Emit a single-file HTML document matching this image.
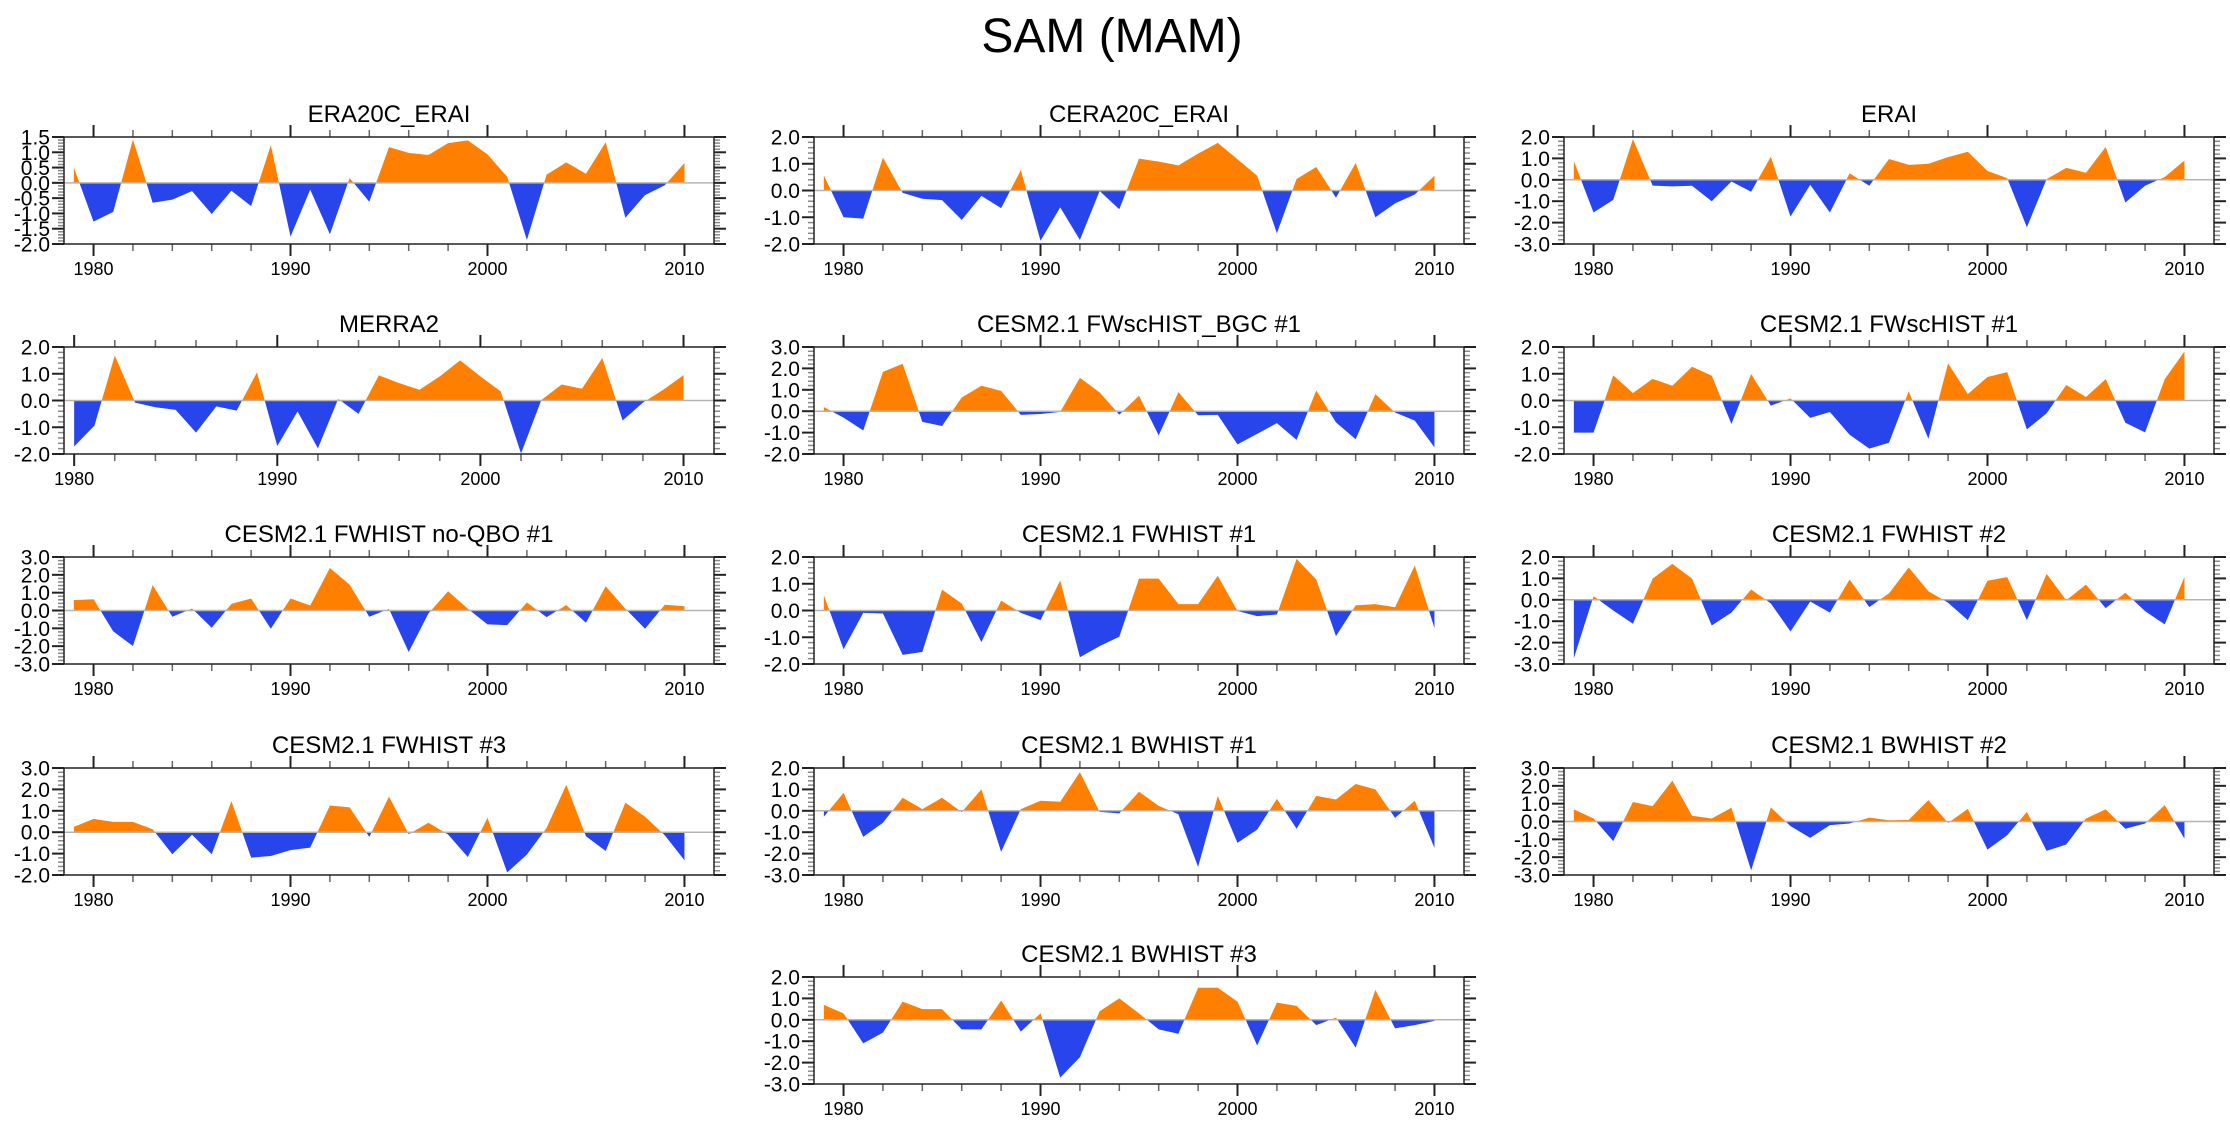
<!DOCTYPE html>
<html>
<head>
<meta charset="utf-8">
<style>
  html,body{margin:0;padding:0;background:#fff;}
  svg{display:block;font-family:"Liberation Sans",Arial,sans-serif;}
</style>
</head>
<body>
<svg id="chart" width="2230" height="1133" viewBox="0 0 2230 1133" xmlns="http://www.w3.org/2000/svg">
  <rect x="0" y="0" width="2230" height="1133" fill="#ffffff"/>
  <text x="1112" y="52" font-size="48" text-anchor="middle" fill="#000">SAM (MAM)</text>
</svg>
<script>
// ---- data (one array per panel, values by year) ----
const panelTitles = ["ERA20C_ERAI","CERA20C_ERAI","ERAI","MERRA2","CESM2.1 FWscHIST_BGC #1","CESM2.1 FWscHIST #1","CESM2.1 FWHIST no-QBO #1","CESM2.1 FWHIST #1","CESM2.1 FWHIST #2","CESM2.1 FWHIST #3","CESM2.1 BWHIST #1","CESM2.1 BWHIST #2","CESM2.1 BWHIST #3"];
const startYears = [1979,1979,1979,1980,1979,1979,1979,1979,1979,1979,1979,1979,1979];
const valsERA20C = [0.5,-1.27,-0.95,1.42,-0.65,-0.55,-0.27,-1.02,-0.26,-0.76,1.23,-1.76,-0.22,-1.68,0.16,-0.62,1.17,0.98,0.91,1.3,1.39,0.93,0.2,-1.87,0.27,0.67,0.3,1.33,-1.14,-0.4,-0.08,0.65];
const valsCERA20C = [0.57,-1.0,-1.05,1.23,-0.09,-0.31,-0.36,-1.1,-0.2,-0.66,0.76,-1.88,-0.63,-1.85,-0.02,-0.7,1.19,1.08,0.94,1.38,1.78,1.17,0.55,-1.6,0.43,0.88,-0.27,1.03,-1.0,-0.48,-0.15,0.55];
const valsERAI = [0.87,-1.53,-0.94,1.9,-0.27,-0.31,-0.28,-1.0,-0.08,-0.56,1.08,-1.72,-0.23,-1.53,0.3,-0.28,0.97,0.7,0.75,1.06,1.31,0.41,0.08,-2.22,0.03,0.56,0.33,1.53,-1.06,-0.28,0.13,0.9];
const valsMERRA2 = [-1.72,-0.94,1.68,-0.08,-0.25,-0.35,-1.2,-0.22,-0.38,1.05,-1.7,-0.41,-1.79,0.06,-0.5,0.94,0.65,0.4,0.9,1.5,0.9,0.34,-1.98,0.02,0.6,0.44,1.59,-0.75,-0.08,0.4,0.95];
const valsFWscBGC1 = [0.19,-0.3,-0.9,1.84,2.22,-0.5,-0.69,0.64,1.19,0.95,-0.17,-0.13,-0.03,1.56,0.88,-0.16,0.72,-1.13,0.89,-0.19,-0.17,-1.55,-1.06,-0.56,-1.34,0.97,-0.52,-1.31,0.8,-0.06,-0.44,-1.69];
const valsFWsc1 = [-1.2,-1.2,0.94,0.28,0.81,0.55,1.26,0.93,-0.88,0.99,-0.19,0.08,-0.65,-0.43,-1.28,-1.8,-1.58,0.34,-1.43,1.39,0.24,0.88,1.06,-1.08,-0.48,0.58,0.13,0.8,-0.83,-1.19,0.8,1.83];
const valsFWnoQBO1 = [0.58,0.63,-1.17,-1.99,1.42,-0.35,0.11,-0.97,0.37,0.67,-1.02,0.67,0.28,2.38,1.45,-0.35,0.09,-2.33,-0.17,1.08,0.1,-0.78,-0.82,0.45,-0.37,0.3,-0.69,1.36,0.1,-1.02,0.32,0.24];
const valsFW1 = [0.57,-1.45,-0.09,-0.11,-1.66,-1.55,0.78,0.26,-1.18,0.37,-0.09,-0.36,1.12,-1.75,-1.33,-0.98,1.19,1.19,0.24,0.24,1.3,-0.02,-0.21,-0.15,1.93,1.16,-0.96,0.19,0.24,0.12,1.68,-0.66];
const valsFW2 = [-2.73,0.17,-0.5,-1.12,0.99,1.68,0.99,-1.2,-0.6,0.48,-0.17,-1.48,-0.08,-0.6,0.95,-0.34,0.3,1.51,0.4,-0.14,-0.95,0.89,1.06,-0.95,1.21,-0.02,0.71,-0.39,0.33,-0.53,-1.15,1.07];
const valsFW3 = [0.25,0.62,0.48,0.48,0.14,-1.03,-0.12,-1.03,1.45,-1.19,-1.11,-0.84,-0.72,1.25,1.16,-0.22,1.66,-0.09,0.44,-0.11,-1.16,0.67,-1.88,-1.05,0.2,2.22,-0.19,-0.88,1.38,0.72,-0.14,-1.31];
const valsBW1 = [-0.28,0.84,-1.22,-0.56,0.61,0.08,0.61,-0.06,1.0,-1.92,0.08,0.47,0.42,1.81,-0.05,-0.12,0.89,0.23,-0.16,-2.62,0.69,-1.5,-0.88,0.56,-0.84,0.7,0.53,1.25,1.0,-0.33,0.47,-1.73];
const valsBW2 = [0.68,0.17,-1.1,1.09,0.86,2.29,0.32,0.17,0.77,-2.74,0.79,-0.26,-0.92,-0.2,-0.11,0.22,0.07,0.09,1.2,-0.08,0.71,-1.58,-0.77,0.54,-1.65,-1.29,0.17,0.68,-0.41,-0.11,0.92,-0.96];
const valsBW3 = [0.7,0.3,-1.1,-0.6,0.85,0.5,0.5,-0.45,-0.45,0.9,-0.55,0.3,-2.7,-1.75,0.4,1.0,0.3,-0.45,-0.65,1.5,1.5,0.85,-1.2,0.8,0.65,-0.25,0.1,-1.3,1.4,-0.4,-0.25,-0.05];
const yMins = [-2,-2,-3,-2,-2,-2,-3,-2,-3,-2,-3,-3,-3];
const yMaxs = [1.5,2,2,2,3,2,3,2,2,3,2,3,2];
const ySteps = [0.5,1,1,1,1,1,1,1,1,1,1,1,1];

const allVals = [valsERA20C,valsCERA20C,valsERAI,valsMERRA2,valsFWscBGC1,valsFWsc1,valsFWnoQBO1,valsFW1,valsFW2,valsFW3,valsBW1,valsBW2,valsBW3];

// ---- layout ----
const colLeft = [64, 814, 1564];
const rowTop = [137, 347, 557, 768, 977];
const PW = 650, PH = 107;
const panelPos = [[0,0],[1,0],[2,0],[0,1],[1,1],[2,1],[0,2],[1,2],[2,2],[0,3],[1,3],[2,3],[1,4]];
const ORANGE = "#ff8000", BLUE = "#2844eb";

const NS = "http://www.w3.org/2000/svg";
const svg = document.getElementById("chart");
function mk(tag, attrs, parent){
  const e = document.createElementNS(NS, tag);
  for (const k in attrs) e.setAttribute(k, attrs[k]);
  parent.appendChild(e);
  return e;
}

panelTitles.forEach((title, i) => {
  const vals = allVals[i];
  const start = startYears[i];
  const ymin = yMins[i], ymax = yMaxs[i], step = ySteps[i];
  const L = colLeft[panelPos[i][0]], T = rowTop[panelPos[i][1]];
  const R = L + PW, B = T + PH;
  const xmin = start - 0.5, xmax = 2011.5;
  const xs = yr => L + (yr - xmin) / (xmax - xmin) * PW;
  const ys = v => T + (ymax - v) / (ymax - ymin) * PH;

  const g = mk("g", {}, svg);
  
  

  const t = mk("text", {x: L + PW / 2, y: T - 15, "font-size": 24, "text-anchor": "middle", fill: "#000"}, g);
  t.textContent = title;
  
  

  // clip paths
  const y0 = ys(0);
  const defs = mk("defs", {}, g);
  const cpA = mk("clipPath", {id: "ca" + i}, defs);
  mk("rect", {x: L, y: T, width: PW, height: y0 - T}, cpA);
  const cpB = mk("clipPath", {id: "cb" + i}, defs);
  mk("rect", {x: L, y: y0, width: PW, height: B - y0}, cpB);

  let pts = xs(start).toFixed(2) + "," + y0.toFixed(2) + " ";
  vals.forEach((v, k) => { pts += xs(start + k).toFixed(2) + "," + ys(v).toFixed(2) + " "; });
  pts += xs(start + vals.length - 1).toFixed(2) + "," + y0.toFixed(2);

  const pa = mk("polygon", {points: pts, fill: ORANGE, "clip-path": "url(#ca" + i + ")"}, g);
  
  
  const pb = mk("polygon", {points: pts, fill: BLUE, "clip-path": "url(#cb" + i + ")"}, g);
  
  

  const zl = mk("line", {x1: L, x2: R, y1: y0, y2: y0, stroke: "#b4b4b4", "stroke-width": 1.5}, g);
  
  

  // x ticks
  for (let yr = 1980; yr <= 2011; yr += 2) {
    const x = xs(yr);
    if (x < L || x > R) continue;
    const major = yr % 10 === 0;
    const len = major ? 12 : 7;
    const col = major ? "#222" : "#666";
    mk("line", {x1: x, x2: x, y1: T, y2: T - len, stroke: col, "stroke-width": major ? 2 : 1.5}, g);
    mk("line", {x1: x, x2: x, y1: B, y2: B + len, stroke: col, "stroke-width": major ? 2 : 1.5}, g);
    if (major) {
      const lab = mk("text", {x: x, y: B + 31, "font-size": 18, "text-anchor": "middle", fill: "#000"}, g);
      lab.textContent = String(yr);
      
      
    }
  }
  // y ticks
  const minorStep = step / 5;
  const nMinor = Math.round((ymax - ymin) / minorStep);
  for (let k = 0; k <= nMinor; k++) {
    const v = ymin + k * minorStep;
    const y = ys(v);
    const major = k % 5 === 0;
    const len = major ? 12 : 6;
    const col = major ? "#222" : "#888";
    mk("line", {x1: L, x2: L - len, y1: y, y2: y, stroke: col, "stroke-width": major ? 2 : 1.5}, g);
    mk("line", {x1: R, x2: R + len, y1: y, y2: y, stroke: col, "stroke-width": major ? 2 : 1.5}, g);
    if (major) {
      const lab = mk("text", {x: L - 14, y: y + 7.5, "font-size": 21, "text-anchor": "end", fill: "#000"}, g);
      lab.textContent = v.toFixed(1);
      
      
    }
  }

  const fr = mk("rect", {x: L, y: T, width: PW, height: PH, fill: "none", stroke: "#222", "stroke-width": 1.5}, g);
  
  
});
</script>
</body>
</html>
